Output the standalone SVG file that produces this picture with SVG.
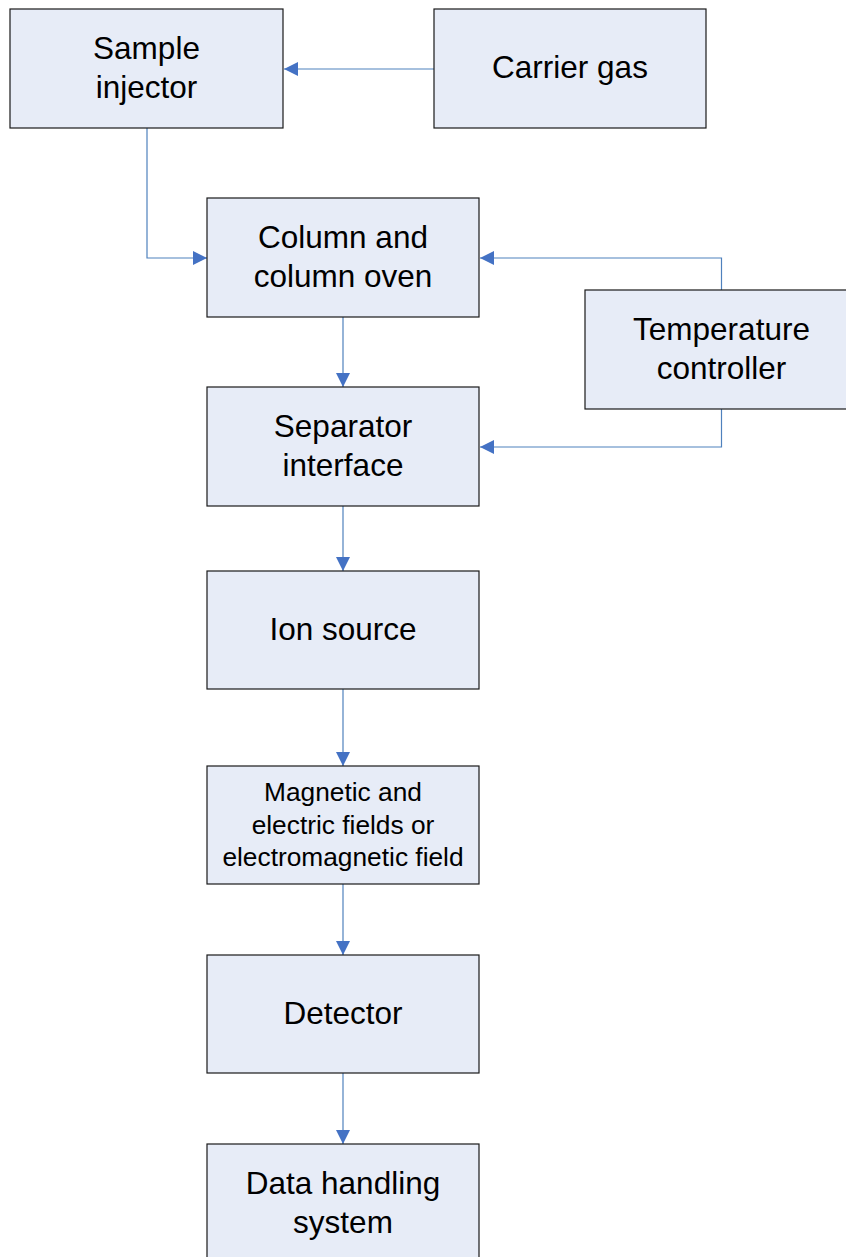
<svg xmlns="http://www.w3.org/2000/svg" width="846" height="1257" viewBox="0 0 846 1257">
  <defs>
    <style>
      .box rect { fill: #E7ECF7; stroke: #1a1a1a; stroke-width: 1.2; }
      .box text { font-family: "Liberation Sans", Arial, sans-serif; font-size: 31.5px; fill: #000; text-anchor: middle; }
      .box text.small { font-size: 26.3px; }
      .conn path { fill: none; stroke: #4F81BD; stroke-width: 1.2; marker-end: url(#arrow); }
    </style>
    <marker id="arrow" markerUnits="userSpaceOnUse" markerWidth="15" markerHeight="15" refX="14" refY="7" orient="auto">
      <path d="M0,0 L14,7 L0,14 Z" fill="#4472C4"/>
    </marker>
  </defs>
  <rect width="846" height="1257" fill="#fff"/>

  <!-- flow connectors -->
  <g id="connectors" class="conn">
    <path d="M434,69 H284"/>
    <path d="M147,128 V258 H207"/>
    <path d="M721.5,290 V258 H480"/>
    <path d="M721.5,409 V447 H480"/>
    <path d="M343,317 V387"/>
    <path d="M343,506 V571"/>
    <path d="M343,689 V766"/>
    <path d="M343,884 V955"/>
    <path d="M343,1073 V1144"/>
  </g>

  <g id="sample-injector" class="box">
    <rect x="10" y="9" width="273" height="119"/>
    <text x="146.5" y="58.5">Sample</text>
    <text x="146.5" y="97.5">injector</text>
  </g>

  <g id="carrier-gas" class="box">
    <rect x="434" y="9" width="272" height="119"/>
    <text x="570" y="78">Carrier gas</text>
  </g>

  <g id="column-oven" class="box">
    <rect x="207" y="198" width="272" height="119"/>
    <text x="343" y="247.5">Column and</text>
    <text x="343" y="286.5">column oven</text>
  </g>

  <g id="temperature-controller" class="box">
    <rect x="585" y="290" width="272" height="119"/>
    <text x="721.5" y="339.5">Temperature</text>
    <text x="721.5" y="378.5">controller</text>
  </g>

  <g id="separator-interface" class="box">
    <rect x="207" y="387" width="272" height="119"/>
    <text x="343" y="436.5">Separator</text>
    <text x="343" y="475.5">interface</text>
  </g>

  <g id="ion-source" class="box">
    <rect x="207" y="571" width="272" height="118"/>
    <text x="343" y="640">Ion source</text>
  </g>

  <g id="fields" class="box">
    <rect x="207" y="766" width="272" height="118"/>
    <text class="small" x="343" y="800.5">Magnetic and</text>
    <text class="small" x="343" y="834">electric fields or</text>
    <text class="small" x="343" y="866">electromagnetic field</text>
  </g>

  <g id="detector" class="box">
    <rect x="207" y="955" width="272" height="118"/>
    <text x="343" y="1024">Detector</text>
  </g>

  <g id="data-handling" class="box">
    <rect x="207" y="1144" width="272" height="120"/>
    <text x="343" y="1193.5">Data handling</text>
    <text x="343" y="1232.5">system</text>
  </g>
</svg>
